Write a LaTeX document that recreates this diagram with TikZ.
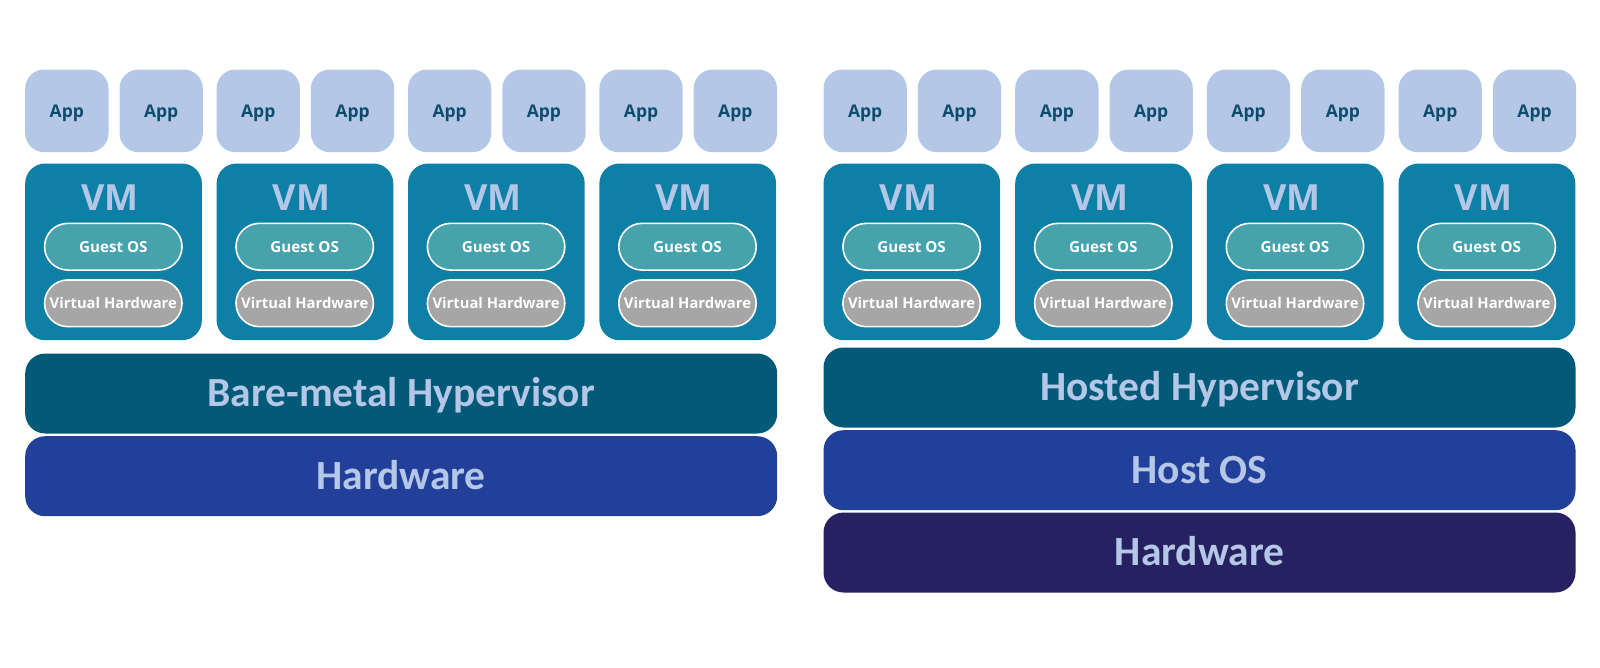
\documentclass[tikz,border=0pt]{standalone}
\usepackage{fontspec}
\setmainfont{Open Sans}
\newfontfamily\layerfont{Carlito}
\definecolor{appfill}{HTML}{B4C7E7}
\definecolor{apptext}{HTML}{0E4C6D}
\definecolor{vmfill}{HTML}{0E80A6}
\definecolor{vmtext}{HTML}{B4C7E7}
\definecolor{guestfill}{HTML}{46A3AC}
\definecolor{vhfill}{HTML}{A6A6A6}
\definecolor{hypfill}{HTML}{025A78}
\definecolor{hwfill}{HTML}{22409A}
\definecolor{hwdark}{HTML}{262262}
\tikzset{
  appbox/.style={rectangle, rounded corners=19pt, fill=appfill, minimum width=83.3pt,
    minimum height=82.7pt, inner sep=0pt, text=apptext, anchor=north west,
    font=\bfseries\fontsize{17.5}{20}\selectfont, text height=12.7pt, text depth=0pt},
  vmbox/.style={rectangle, rounded corners=20pt, fill=vmfill, minimum width=176.7pt,
    minimum height=176.7pt, inner sep=0pt, anchor=north west},
  vmlabel/.style={inner sep=0pt, text=vmtext, font=\bfseries\fontsize{36}{40}\selectfont,
    text height=26.7pt, text depth=0pt},
  pillbase/.style={rectangle, rounded corners=23.3pt, draw=white, line width=1.6pt,
    minimum width=137.4pt, minimum height=46.7pt, inner sep=0pt, text=white,
    font=\bfseries\fontsize{15.2}{17}\selectfont, text height=11pt, text depth=0pt},
  guestpill/.style={pillbase, fill=guestfill},
  vhpill/.style={pillbase, fill=vhfill, font=\bfseries\fontsize{14.8}{17}\selectfont},
  layerbox/.style={rectangle, rounded corners=20pt, minimum width=752pt, minimum height=80pt,
    inner sep=0pt, anchor=north west, text=vmtext,
    font=\layerfont\bfseries\fontsize{41.5}{48}\selectfont, text height=26.7pt, text depth=0pt},
}
\begin{document}
\begin{tikzpicture}[x=1pt,y=-1pt]
\useasboundingbox (0,0) rectangle (1600,667);
\fill[white] (0,0) rectangle (1600,667);
\foreach \p/\ox/\pitch in {L/25/191.4, R/823.3/191.7} {
  \foreach \i in {0,1,2,3} {
    \pgfmathsetmacro\vx{\ox+\i*\pitch}
    \node[appbox] (app\p\i a) at (\vx,69.3) {App};
    \node[appbox] (app\p\i b) at (\vx+94.3,69.3) {App};
    \node[vmbox] (vm\p\i) at (\vx,163.3) {};
    \node[vmlabel] (vml\p\i) at (\vx+85,196.7) {VM};
    \node[guestpill] (gos\p\i) at (\vx+88.3,246.7) {Guest OS};
    \node[vhpill] (vh\p\i) at (\vx+88.3,303.3) {Virtual Hardware};
  }
}
% left stack
\node[layerbox, fill=hypfill] (bmhyp) at (25,353.3) {Bare-metal Hypervisor};
\node[layerbox, fill=hwfill] (hwL) at (25,436) {Hardware};
% right stack
\node[layerbox, fill=hypfill] (hhyp) at (823.3,347.3) {Hosted Hypervisor};
\node[layerbox, fill=hwfill] (hostos) at (823.3,430) {Host OS};
\node[layerbox, fill=hwdark] (hwR) at (823.3,512.3) {Hardware};
\end{tikzpicture}
\end{document}
